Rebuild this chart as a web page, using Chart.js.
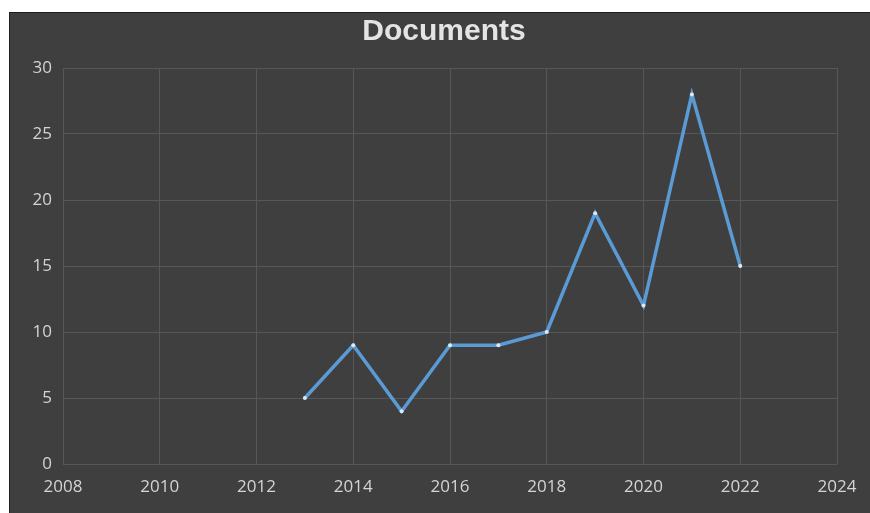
<!DOCTYPE html>
<html>
<head>
<meta charset="utf-8">
<script src="https://cdn.jsdelivr.net/npm/chart.js@4/dist/chart.umd.min.js"></script>
<style>
  html, body { margin: 0; padding: 0; background: #fff; overflow: hidden; }
  #box {
    position: absolute; left: 9px; top: 12px;
    width: 870px; height: 510px;
    background: #3f3f3f;
    border-left: 1px solid #1e1e1e; border-top: 1px solid #1e1e1e;
  }
</style>
</head>
<body>
<div id="box"><canvas id="myChart" width="860" height="500"></canvas></div>
<script>
const years = [2013, 2014, 2015, 2016, 2017, 2018, 2019, 2020, 2021, 2022]
const documents = [5, 9, 4, 9, 9, 10, 19, 12, 28, 15]
const xTicks = [2008, 2010, 2012, 2014, 2016, 2018, 2020, 2022, 2024]
const yTicks = [0, 5, 10, 15, 20, 25, 30]

const points = years.map((y, i) => ({ x: y, y: documents[i] }))
const gridColor = '#575757'
const tickColor = '#d4d4d4'

// title is centred on the whole box, not on the padded layout area
const titleSpan = {
    id: 'titleSpan',
    afterLayout(chart) {
        const t = chart.titleBlock
        if (t) { t.left = 0; t.right = 868 }
    }
}

const show = document.getElementById('myChart').getContext('2d')
const myChart = new Chart(show, {
    type: 'line',
    data: {
        datasets: [{
            label: 'Documents',
            data: points,
            borderColor: '#5b9bd5',
            borderWidth: 3.5,
            pointRadius: 2,
            pointBorderWidth: 0,
            pointBackgroundColor: '#dde9f5',
            tension: 0,
        }]
    },
    options: {
        responsive: false,
        animation: false,
        layout: { padding: { left: 0, right: 33, top: 0, bottom: 0 } },
        plugins: {
            legend: { display: false },
            tooltip: { enabled: false },
            title: {
                display: true,
                text: 'Documents',
                color: '#e4e4e4',
                font: { family: 'Liberation Sans', size: 30, weight: 'bold' },
                padding: { top: 1, bottom: 18 },
            },
        },
        scales: {
            x: {
                type: 'linear',
                min: xTicks[0],
                max: xTicks[xTicks.length - 1],
                afterBuildTicks: s => { s.ticks = xTicks.map(v => ({ value: v })) },
                afterFit: s => { s.height = 49 },
                grid: { color: gridColor, lineWidth: 1, drawTicks: false },
                border: { display: false },
                ticks: {
                    color: tickColor,
                    padding: 13,
                    font: { family: 'Open Sans', size: 17 },
                    callback: v => String(v),
                },
            },
            y: {
                min: yTicks[0],
                max: yTicks[yTicks.length - 1],
                afterBuildTicks: s => { s.ticks = yTicks.map(v => ({ value: v })) },
                afterFit: s => { s.width = 53 },
                grid: { color: gridColor, lineWidth: 1, drawTicks: false },
                border: { display: false },
                ticks: {
                    color: tickColor,
                    padding: 11,
                    font: { family: 'Open Sans', size: 17 },
                },
            },
        },
    },
    plugins: [titleSpan],
})
</script>
</body>
</html>
